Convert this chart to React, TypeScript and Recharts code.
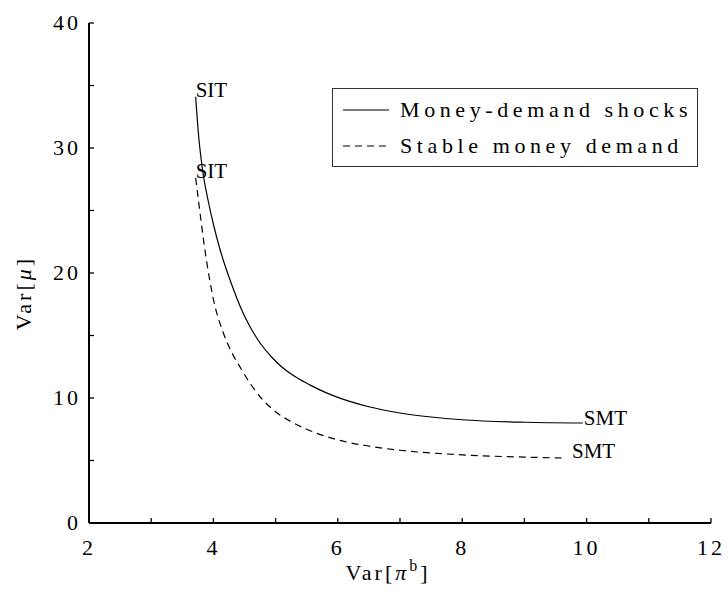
import { LineChart, Line, XAxis, YAxis, Legend, Label, LabelList } from 'recharts';

// Money-demand shocks (solid)
const shockX = [3.715, 3.76, 3.83, 3.915, 4.0, 4.1, 4.2, 4.3, 4.45, 4.6, 4.75, 4.95, 5.12, 5.35, 5.55, 5.8, 6.0, 6.5, 7.0, 7.5, 8.0, 9.0, 9.94];
const shockY = [34.1, 31.1, 28.1, 25.8, 23.9, 22.0, 20.4, 19.0, 17.1, 15.6, 14.4, 13.2, 12.4, 11.6, 11.05, 10.45, 10.05, 9.3, 8.8, 8.48, 8.26, 8.06, 8.0];

// Stable money demand (dashed)
const stableX = [3.715, 3.76, 3.865, 4.0, 4.16, 4.3, 4.45, 4.6, 4.75, 5.0, 5.25, 5.5, 6.0, 6.5, 7.0, 8.0, 9.0, 9.62];
const stableY = [27.6, 25.8, 21.8, 17.9, 15.2, 13.6, 12.3, 11.1, 10.1, 8.9, 8.1, 7.5, 6.65, 6.15, 5.82, 5.45, 5.27, 5.2];

const xTicks = [2, 3, 4, 5, 6, 7, 8, 9, 10, 11, 12];
const yTicks = [0, 5, 10, 15, 20, 25, 30, 35, 40];

const startLabel = 'SIT';
const endLabel = 'SMT';

const shockData = shockX.map((x, i) => ({ x, y: shockY[i] }));
const stableData = stableX.map((x, i) => ({ x, y: stableY[i] }));

const SERIF = '"Liberation Serif", "Times New Roman", serif';

const XTick = ({ x, y, payload }: any) => (
  <g>
    <line x1={x} x2={x} y1={y} y2={y - 5} stroke="#000" strokeWidth={1.3} />
    {payload.value % 2 === 0 && (
      <text x={x} y={y + 32} textAnchor="middle" fontFamily={SERIF} fontSize={22} letterSpacing={3} fill="#000">
        {payload.value}
      </text>
    )}
  </g>
);

const YTick = ({ x, y, payload }: any) => (
  <g>
    <line x1={x} x2={x + 5} y1={y} y2={y} stroke="#000" strokeWidth={1.3} />
    {payload.value % 10 === 0 && (
      <text x={x - 8} y={y + 7} textAnchor="end" fontFamily={SERIF} fontSize={22} letterSpacing={3} fill="#000">
        {payload.value}
      </text>
    )}
  </g>
);

const endpointLabel = (count: number, endDx: number, endDy: number) => (props: any) => {
  const { x, y, index } = props;
  if (index === 0) {
    return (
      <text x={x} y={y} fontFamily={SERIF} fontSize={21} fill="#000">
        {startLabel}
      </text>
    );
  }
  if (index === count - 1) {
    return (
      <text x={x + endDx} y={y + endDy} fontFamily={SERIF} fontSize={21} fill="#000">
        {endLabel}
      </text>
    );
  }
  return null;
};

const LegendBox = ({ payload }: any) => (
  <div
    style={{
      width: 366,
      height: 79,
      border: '1.5px solid #333',
      background: '#fff',
      fontFamily: SERIF,
      fontSize: 22,
      letterSpacing: 4.6,
      color: '#000',
      boxSizing: 'border-box',
      paddingTop: 3,
    }}
  >
    {(payload || []).map((entry: any) => (
      <div key={entry.value} style={{ display: 'flex', alignItems: 'center', height: 36 }}>
        <svg width={67} height={10} style={{ flex: 'none' }}>
          <line
            x1={10}
            x2={56}
            y1={5}
            y2={5}
            stroke="#000"
            strokeWidth={1.2}
            strokeDasharray={entry.payload?.strokeDasharray}
          />
        </svg>
        <span style={{ whiteSpace: 'nowrap' }}>{entry.value}</span>
      </div>
    ))}
  </div>
);

export default function App() {
  return (
    <div style={{ position: 'absolute', left: 0, top: 0, background: '#fff' }}>
      <LineChart width={728} height={595} margin={{ top: 23, right: 17, left: 0, bottom: 0 }}>
        <XAxis
          type="number"
          dataKey="x"
          domain={[2, 12]}
          ticks={xTicks}
          interval={0}
          allowDataOverflow
          height={72}
          tickSize={0}
          tickMargin={0}
          tickLine={false}
          tick={<XTick />}
          axisLine={{ stroke: '#000', strokeWidth: 2 }}
        >
          <Label
            content={({ viewBox }: any) => (
              <text
                x={viewBox.x + viewBox.width / 2 - 12}
                y={viewBox.y + 57}
                textAnchor="middle"
                fontFamily={SERIF}
                fontSize={22}
                letterSpacing={3}
                fill="#000"
              >
                Var[<tspan fontStyle="italic">π</tspan>
                <tspan dy={-9} fontSize={16}>b</tspan>
                <tspan dy={9}>]</tspan>
              </text>
            )}
          />
        </XAxis>
        <YAxis
          type="number"
          dataKey="y"
          domain={[0, 40]}
          ticks={yTicks}
          interval={0}
          allowDataOverflow
          width={89}
          tickSize={0}
          tickMargin={0}
          tickLine={false}
          tick={<YTick />}
          axisLine={{ stroke: '#000', strokeWidth: 2 }}
        >
          <Label
            content={({ viewBox }: any) => {
              const cx = 31;
              const cy = viewBox.y + viewBox.height / 2 + 20;
              return (
                <text
                  x={cx}
                  y={cy}
                  transform={`rotate(-90, ${cx}, ${cy})`}
                  textAnchor="middle"
                  fontFamily={SERIF}
                  fontSize={22}
                  letterSpacing={3}
                  fill="#000"
                >
                  Var[<tspan fontStyle="italic">μ</tspan>]
                </text>
              );
            }}
          />
        </YAxis>
        <Legend
          layout="vertical"
          align="center"
          verticalAlign="middle"
          wrapperStyle={{ left: 332, top: 88, width: 366 }}
          content={<LegendBox />}
        />
        <Line
          data={shockData}
          dataKey="y"
          name="Money-demand shocks"
          type="monotone"
          stroke="#000"
          strokeWidth={1.2}
          dot={false}
          isAnimationActive={false}
        >
          <LabelList dataKey="y" content={endpointLabel(shockData.length, 1, 2)} />
        </Line>
        <Line
          data={stableData}
          dataKey="y"
          name="Stable money demand"
          type="monotone"
          stroke="#000"
          strokeWidth={1.2}
          strokeDasharray="7 5"
          dot={false}
          isAnimationActive={false}
        >
          <LabelList dataKey="y" content={endpointLabel(stableData.length, 9, 0)} />
        </Line>
      </LineChart>
    </div>
  );
}
